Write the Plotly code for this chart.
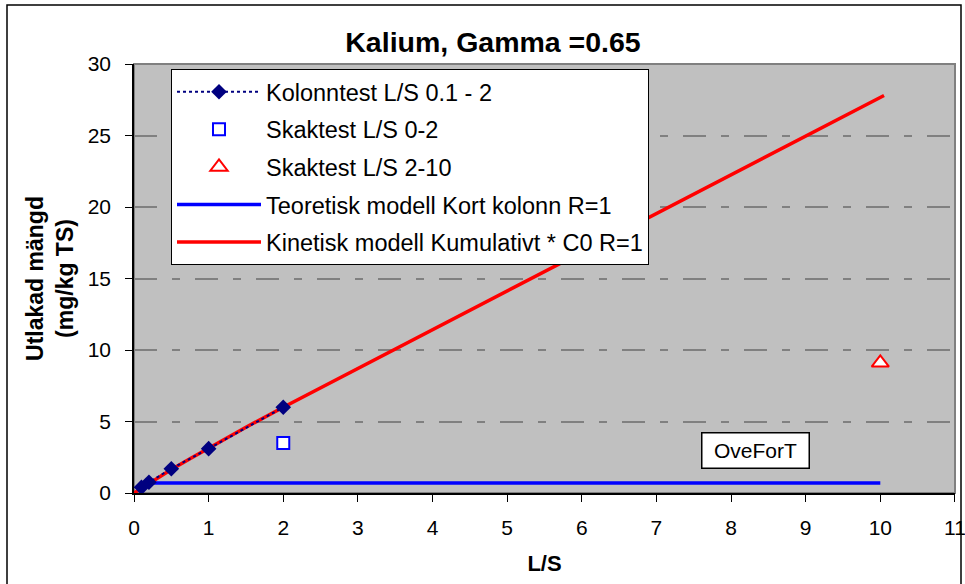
import plotly.graph_objects as go

# Column test (Kolonntest), cumulative leached amount
kolonn_ls = [0.1, 0.2, 0.5, 1.0, 2.0]
kolonn_mg = [0.4, 0.75, 1.7, 3.1, 6.0]

# Batch tests (Skaktest)
skak02_ls = [2.0]
skak02_mg = [3.5]
skak210_ls = [10.0]
skak210_mg = [9.1]

# Theoretical model, short column R=1
teor_ls = [0.1, 0.5, 1, 2, 3, 4, 5, 6, 7, 8, 9, 10]
teor_mg = [0.7, 0.7, 0.7, 0.7, 0.7, 0.7, 0.7, 0.7, 0.7, 0.7, 0.7, 0.7]

# Kinetic model, cumulative * C0, R=1
kin_ls = [0, 0.25, 0.5, 0.75, 1, 1.5, 2, 2.5, 3, 3.5, 4, 4.5, 5, 5.5, 6,
          6.5, 7, 7.5, 8, 8.5, 9, 9.5, 10, 10.05]
kin_mg = [0, 0.85, 1.65, 2.4, 3.15, 4.6, 6.0, 7.35, 8.7, 10.05, 11.4, 12.75,
          14.1, 15.45, 16.8, 18.15, 19.5, 20.85, 22.2, 23.55, 24.9, 26.25, 27.6, 27.8]

x_ticks = list(range(0, 12))
y_ticks = [0, 5, 10, 15, 20, 25, 30]

FONT = "Liberation Sans, Arial, sans-serif"

fig = go.Figure()

# model lines first so the measured points sit on top
fig.add_trace(go.Scatter(
    x=teor_ls, y=teor_mg, mode="lines",
    name="Teoretisk modell Kort kolonn R=1", legendgroup="d", legendrank=4,
    line=dict(color="#0000FF", width=3.5),
))
fig.add_trace(go.Scatter(
    x=kin_ls, y=kin_mg, mode="lines",
    name="Kinetisk modell Kumulativt * C0 R=1", legendgroup="e", legendrank=5,
    line=dict(color="#FF0000", width=3.5),
))
fig.add_trace(go.Scatter(
    x=kolonn_ls, y=kolonn_mg, mode="lines+markers",
    name="Kolonntest L/S 0.1 - 2", legendgroup="a", legendrank=1,
    line=dict(color="#000080", width=2, dash="dot"),
    marker=dict(symbol="diamond", size=12, color="#000080"),
))
fig.add_trace(go.Scatter(
    x=skak02_ls, y=skak02_mg, mode="markers",
    name="Skaktest L/S 0-2", legendgroup="b", legendrank=2,
    marker=dict(symbol="square", size=12, color="white",
                line=dict(color="#0000FF", width=2)),
))
fig.add_trace(go.Scatter(
    x=skak210_ls, y=skak210_mg, mode="markers",
    name="Skaktest L/S 2-10", legendgroup="c", legendrank=3,
    marker=dict(symbol="triangle-up", size=15, color="white",
                line=dict(color="#FF0000", width=2)),
))

W, H = 965, 584
L, R, T, B = 134, 10, 64, 91
pw, ph = W - L - R, H - T - B

def px_x(p):
    return (p - L) / pw

def px_y(p):
    return (H - B - p) / ph

fig.update_layout(
    width=W, height=H,
    margin=dict(l=L, r=R, t=T, b=B, autoexpand=False),
    paper_bgcolor="white",
    plot_bgcolor="#C0C0C0",
    font=dict(family=FONT, size=21, color="black"),
    title=dict(text="Kalium, Gamma =0.65", x=493 / W, xanchor="center",
               y=1 - 42 / H, yanchor="middle",
               font=dict(family=FONT, size=28.5, color="black", weight="bold")),
    legend=dict(
        x=px_x(171), y=px_y(69), xanchor="left", yanchor="top",
        bgcolor="white", bordercolor="black", borderwidth=1,
        font=dict(family=FONT, size=23.5, color="black"),
        traceorder="grouped", tracegroupgap=4, itemwidth=84,
    ),
    xaxis=dict(
        range=[0, 11.001], tickvals=x_ticks, ticktext=[str(v) for v in x_ticks],
        showgrid=False, zeroline=False, automargin=False,
        showline=True, linecolor="black", linewidth=1.5,
        ticks="outside", ticklen=7, tickcolor="black", tickwidth=1,
        tickfont=dict(family=FONT, size=21), ticklabelstandoff=8,
        ticklabeloverflow="allow",
        title=dict(text="L/S", standoff=18,
                   font=dict(family=FONT, size=22, weight="bold")),
    ),
    yaxis=dict(
        range=[0, 30], tickvals=y_ticks, ticktext=[str(v) for v in y_ticks],
        showgrid=True, gridcolor="#808080", gridwidth=1.5,
        griddash="23px,15px,8px,15px",
        zeroline=False, automargin=False,
        showline=True, linecolor="black", linewidth=1.5,
        ticks="outside", ticklen=7, tickcolor="black", tickwidth=1,
        tickfont=dict(family=FONT, size=21), ticklabelstandoff=10,
        title=dict(text="Utlakad mängd<br>(mg/kg TS)", standoff=8,
                   font=dict(family=FONT, size=23, weight="bold")),
    ),
    shapes=[
        # plot-area frame
        dict(type="rect", xref="paper", yref="paper", x0=0, x1=1, y0=0, y1=1,
             line=dict(color="#808080", width=2), layer="below"),
        # outer chart frame
        dict(type="rect", xref="paper", yref="paper",
             x0=px_x(7), x1=px_x(961), y0=px_y(600), y1=px_y(5),
             line=dict(color="black", width=1.5)),
    ],
    annotations=[
        dict(text="OveForT", x=8.33, y=3.0, xref="x", yref="y",
             showarrow=False, bgcolor="white", bordercolor="black",
             borderwidth=1.5, width=104, height=32,
             font=dict(family=FONT, size=21, color="black")),
    ],
)

fig.write_html("out.html")
